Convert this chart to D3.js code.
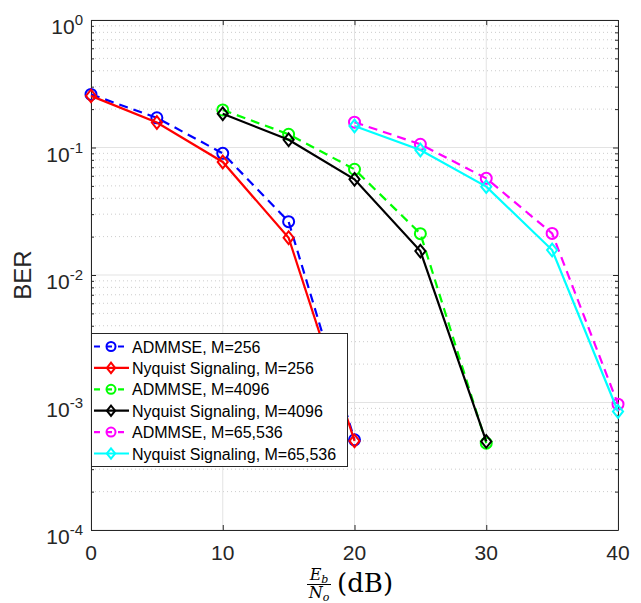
<!DOCTYPE html>
<html>
<head>
<meta charset="utf-8">
<script src="https://cdn.jsdelivr.net/npm/d3@7"></script>
<style>
  body { margin: 0; background: #fff; }
  svg { font-family: "Liberation Sans", Arial, sans-serif; }
</style>
</head>
<body>
<div class="chart"></div>
<script>
// data
var snr256 = [0, 5, 10, 15, 20];
var snr4096 = [10, 15, 20, 25, 30];
var snr65536 = [20, 25, 30, 35, 40];

var admmse256 = [0.261, 0.171, 0.090, 0.0262, 5.1e-4];
var nyquist256 = [0.254, 0.157, 0.077, 0.0196, 5.0e-4];
var admmse4096 = [0.197, 0.127, 0.0675, 0.0211, 4.8e-4];
var nyquist4096 = [0.184, 0.115, 0.0563, 0.0154, 4.95e-4];
var admmse65536 = [0.158, 0.106, 0.0573, 0.0212, 9.7e-4];
var nyquist65536 = [0.1475, 0.0956, 0.0493, 0.0157, 8.5e-4];

var seriesNames = ["ADMMSE, M=256", "Nyquist Signaling, M=256", "ADMMSE, M=4096",
  "Nyquist Signaling, M=4096", "ADMMSE, M=65,536", "Nyquist Signaling, M=65,536"];

var xTicks = [0, 10, 20, 30, 40];
var yTickExps = [0, -1, -2, -3, -4];

var svgWidth = 641;
var svgHeight = 603;
var margin = { top: 20, right: 23, bottom: 73, left: 91 };
var width = svgWidth - margin.left - margin.right;
var height = svgHeight - margin.top - margin.bottom;

var axisColor = "#262626";

var series = [
  { name: seriesNames[0], x: snr256, y: admmse256, color: "#0000ff", dashed: true, marker: "circle" },
  { name: seriesNames[1], x: snr256, y: nyquist256, color: "#ff0000", dashed: false, marker: "diamond" },
  { name: seriesNames[2], x: snr4096, y: admmse4096, color: "#00ff00", dashed: true, marker: "circle" },
  { name: seriesNames[3], x: snr4096, y: nyquist4096, color: "#000000", dashed: false, marker: "diamond" },
  { name: seriesNames[4], x: snr65536, y: admmse65536, color: "#ff00ff", dashed: true, marker: "circle" },
  { name: seriesNames[5], x: snr65536, y: nyquist65536, color: "#00ffff", dashed: false, marker: "diamond" }
];

var svg = d3.select(".chart").append("svg")
  .attr("width", svgWidth)
  .attr("height", svgHeight);

var chartGroup = svg.append("g")
  .attr("transform", `translate(${margin.left}, ${margin.top})`);

var xScale = d3.scaleLinear().domain([0, 40]).range([0, width]);
var yScale = d3.scaleLog().domain([1e-4, 1]).range([height, 0]);

// minor values 2..9 per decade
var minorVals = [];
for (var e = -4; e < 0; e++) {
  for (var m = 2; m <= 9; m++) minorVals.push(m * Math.pow(10, e));
}
var majorVals = yTickExps.map(d => Math.pow(10, d));

// grid
chartGroup.append("g").selectAll("line.minor")
  .data(minorVals).enter().append("line")
  .attr("x1", 0).attr("x2", width)
  .attr("y1", d => yScale(d)).attr("y2", d => yScale(d))
  .attr("stroke", "#cccccc").attr("stroke-width", 1)
  .attr("stroke-dasharray", "1,3");

chartGroup.append("g").selectAll("line.ymajor")
  .data(majorVals).enter().append("line")
  .attr("x1", 0).attr("x2", width)
  .attr("y1", d => yScale(d)).attr("y2", d => yScale(d))
  .attr("stroke", "#e3e3e3").attr("stroke-width", 1);

chartGroup.append("g").selectAll("line.xmajor")
  .data(xTicks).enter().append("line")
  .attr("x1", d => xScale(d)).attr("x2", d => xScale(d))
  .attr("y1", 0).attr("y2", height)
  .attr("stroke", "#e3e3e3").attr("stroke-width", 1);

// axes (ticks inward, box on all sides)
function styleAxis(g) {
  g.select(".domain").attr("stroke", axisColor).attr("stroke-width", 1);
  g.selectAll(".tick line").attr("stroke", axisColor);
  g.selectAll(".tick text").remove();
}

chartGroup.append("g")
  .attr("transform", `translate(0, ${height})`)
  .call(d3.axisBottom(xScale).tickValues(xTicks).tickSize(-5).tickSizeOuter(0))
  .call(styleAxis);
chartGroup.append("g")
  .call(d3.axisTop(xScale).tickValues(xTicks).tickSize(-5).tickSizeOuter(0))
  .call(styleAxis);
chartGroup.append("g")
  .call(d3.axisLeft(yScale).tickValues(majorVals).tickSize(-5).tickSizeOuter(0))
  .call(styleAxis);
chartGroup.append("g")
  .attr("transform", `translate(${width}, 0)`)
  .call(d3.axisRight(yScale).tickValues(majorVals).tickSize(-5).tickSizeOuter(0))
  .call(styleAxis);
chartGroup.append("g")
  .call(d3.axisLeft(yScale).tickValues(minorVals).tickSize(-3).tickSizeOuter(0))
  .call(styleAxis).select(".domain").remove();
chartGroup.append("g")
  .attr("transform", `translate(${width}, 0)`)
  .call(d3.axisRight(yScale).tickValues(minorVals).tickSize(-3).tickSizeOuter(0))
  .call(styleAxis).select(".domain").remove();

// x tick labels
chartGroup.append("g").selectAll("text")
  .data(xTicks).enter().append("text")
  .attr("x", d => xScale(d))
  .attr("y", height + 30)
  .attr("text-anchor", "middle")
  .attr("font-size", 21)
  .attr("fill", axisColor)
  .text(d => d);

// y tick labels 10^n
var yLabels = chartGroup.append("g").selectAll("text")
  .data(yTickExps).enter().append("text")
  .attr("x", -8)
  .attr("y", d => yScale(Math.pow(10, d)) + 14)
  .attr("text-anchor", "end")
  .attr("font-size", 21)
  .attr("fill", axisColor);
yLabels.append("tspan").text("10");
yLabels.append("tspan")
  .attr("font-size", 15)
  .attr("dy", -9)
  .text(d => d);

// y axis title
svg.append("text")
  .attr("transform", `translate(31, ${margin.top + height / 2}) rotate(-90)`)
  .attr("text-anchor", "middle")
  .attr("font-size", 24)
  .attr("fill", axisColor)
  .text("BER");

// x axis title: Eb/No (dB)
var xl = svg.append("g")
  .attr("font-family", "'DejaVu Serif', 'Liberation Serif', serif")
  .attr("fill", "#000");
var num = xl.append("text").attr("x", 319).attr("y", 580).attr("text-anchor", "middle");
num.append("tspan").attr("font-style", "italic").attr("font-size", 16).text("E");
num.append("tspan").attr("font-style", "italic").attr("font-size", 11).attr("dy", 3).text("b");
xl.append("line")
  .attr("x1", 307).attr("x2", 331).attr("y1", 584.5).attr("y2", 584.5)
  .attr("stroke", "#000").attr("stroke-width", 1);
var den = xl.append("text").attr("x", 319).attr("y", 598).attr("text-anchor", "middle");
den.append("tspan").attr("font-style", "italic").attr("font-size", 16).text("N");
den.append("tspan").attr("font-style", "italic").attr("font-size", 11).attr("dy", 3).text("o");
xl.append("text")
  .attr("x", 337).attr("y", 592)
  .attr("font-size", 26)
  .text("(dB)");

// lines
var line = d3.line()
  .x(d => xScale(d[0]))
  .y(d => yScale(d[1]));

function drawMarker(g, type, color, r) {
  if (type === "circle") {
    g.append("circle").attr("r", r)
      .attr("fill", "none").attr("stroke", color).attr("stroke-width", 2);
  } else {
    var h = r * 1.15, w = r * 0.92;
    g.append("path")
      .attr("d", `M0,${-h}L${w},0L0,${h}L${-w},0Z`)
      .attr("fill", "none").attr("stroke", color).attr("stroke-width", 2);
  }
}

series.forEach(function(s) {
  var pts = s.x.map((x, i) => [x, s.y[i]]);
  chartGroup.append("path")
    .datum(pts)
    .attr("d", line)
    .attr("fill", "none")
    .attr("stroke", s.color)
    .attr("stroke-width", 2.2)
    .attr("stroke-dasharray", s.dashed ? "9,6" : null);
  chartGroup.append("g").selectAll("g")
    .data(pts).enter().append("g")
    .attr("transform", d => `translate(${xScale(d[0])}, ${yScale(d[1])})`)
    .each(function() { drawMarker(d3.select(this), s.marker, s.color, 5.5); });
});

// legend
var legend = svg.append("g").attr("transform", "translate(91, 333)");
legend.append("rect")
  .attr("x", 0.5).attr("y", 0.5)
  .attr("width", 256).attr("height", 133)
  .attr("fill", "#fff").attr("stroke", axisColor).attr("stroke-width", 1);

var rows = legend.selectAll("g.row")
  .data(series).enter().append("g")
  .attr("transform", (d, i) => `translate(0, ${13.5 + i * 21.4})`);
rows.append("line")
  .attr("x1", 3).attr("x2", 38).attr("y1", 0).attr("y2", 0)
  .attr("stroke", d => d.color).attr("stroke-width", 2.2)
  .attr("stroke-dasharray", d => d.dashed ? "6,6" : null);
rows.each(function(d) {
  var g = d3.select(this).append("g").attr("transform", "translate(20, 0)");
  drawMarker(g, d.marker, d.color, 4.5);
});
rows.append("text")
  .attr("x", 41).attr("y", 6)
  .attr("font-size", 16)
  .attr("fill", "#000")
  .text(d => d.name);
</script>
</body>
</html>
